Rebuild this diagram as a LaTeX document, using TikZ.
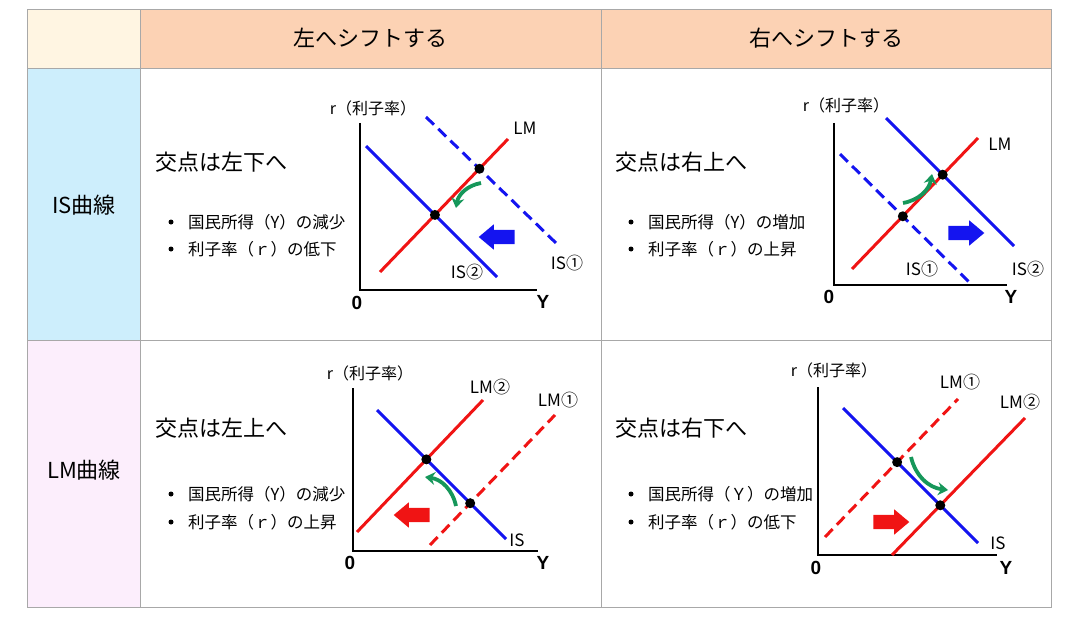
\documentclass[tikz,border=0pt]{standalone}
\usepackage{fontspec}
\setmainfont{Noto Sans CJK JP}
\newfontfamily\axisfont{Liberation Sans}
\usetikzlibrary{arrows.meta, shapes.arrows, positioning}
\usepackage{xcolor}

\definecolor{headcol}{HTML}{FCD2B4}
\definecolor{cornercol}{HTML}{FFF5E2}
\definecolor{iscol}{HTML}{CDEEFC}
\definecolor{lmcol}{HTML}{FCEEFC}
\definecolor{gridcol}{HTML}{A8A8A8}
\definecolor{isblue}{HTML}{1414F0}
\definecolor{lmred}{HTML}{F01414}
\definecolor{movegreen}{HTML}{16975A}

\begin{document}
\begin{tikzpicture}[x=1pt, y=-1pt,
    headtext/.style={font=\fontsize{22}{26}\selectfont},
    title/.style={anchor=west, inner sep=0pt, font=\fontsize{22}{26}\selectfont},
    item/.style={anchor=west, inner sep=0pt, font=\fontsize{16.5}{20}\selectfont},
    dotmark/.style={circle, fill=black, inner sep=0pt, minimum size=5pt},
    axlabel/.style={inner sep=0pt, font=\fontsize{16}{19}\selectfont},
    lbl/.style={inner sep=0pt, font=\fontsize{17}{20}\selectfont},
    axnum/.style={inner sep=0pt, font=\axisfont\bfseries\fontsize{19}{22}\selectfont},
    axis/.style={line width=1.4pt},
    curve/.style={line width=3pt},
    shifted/.style={line width=3pt, dash pattern=on 11pt off 6pt},
    point/.style={circle, fill=black, inner sep=0pt, minimum size=10pt},
    move/.style={movegreen, line width=3.8pt, -{Stealth[length=10pt,width=13pt]}},
    bigarrow/.style={single arrow, inner xsep=0pt, inner ysep=7pt, minimum width=25pt,
        minimum height=36pt, single arrow head extend=5.5pt, single arrow tip angle=80}]
    \useasboundingbox (0,0) rectangle (1070,623);

    % table
    \fill[cornercol] (27,10) rectangle (140,69);
    \fill[headcol] (140,10) rectangle (1051,69);
    \fill[iscol] (27,69) rectangle (140,340);
    \fill[lmcol] (27,340) rectangle (140,607);
    \draw[gridcol, line width=1pt] (27,10) rectangle (1051,607);
    \draw[gridcol, line width=1pt] (27,69) -- (1051,69) (27,340) -- (1051,340)
        (140,10) -- (140,607) (601,10) -- (601,607);
    \node[headtext] (left) at (370,38) {左へシフトする};
    \node[headtext] (right) at (826,38) {右へシフトする};
    \node[headtext] (isrow) at (84,205) {IS曲線};
    \node[headtext] (lmrow) at (84,470) {LM曲線};

    % IS, left
    \node[title] (t1) at (155,162) {交点は左下へ};
    \node[dotmark] at (171,222) {};
    \node[item] (a1) at (188,222) {国民所得（Y）の減少};
    \node[dotmark] at (171,249) {};
    \node[item] (b1) at (188,249) {利子率（ｒ）の低下};
    \draw[axis] (360,123) -- (360,290) -- (537,290);
    \node[axnum] (zero1) at (357,303) {0};
    \node[axnum] (y1) at (543,302) {Y};
    \node[axlabel] (r1) at (373,108) {r（利子率）};
    \coordinate (lma1) at (380,272); \coordinate (lmb1) at (508,139);
    \coordinate (isa1) at (426,117); \coordinate (isb1) at (557,244);
    \coordinate (isc1) at (366,146); \coordinate (isd1) at (497,277);
    \draw[curve, lmred] (lma1) -- (lmb1);
    \draw[shifted, isblue] (isa1) -- (isb1);
    \draw[curve, isblue] (isc1) -- (isd1);
    \node[lbl] (lm1) at (525,128) {LM};
    \node[lbl] (is1) at (567,263) {IS①};
    \node[lbl] (is2) at (467,272) {IS②};
    \node[point] (p1) at (intersection of lma1--lmb1 and isa1--isb1) {};
    \node[point] (q1) at (intersection of lma1--lmb1 and isc1--isd1) {};
    \coordinate (ms1) at (481,183); \coordinate (me1) at (456,208);
    \draw[move] (ms1) to[bend right=35] (me1);
    \node[bigarrow, fill=isblue, shape border rotate=180] (sh1) at (501,237) {};

    % IS, right
    \node[title] (t2) at (615,162) {交点は右上へ};
    \node[dotmark] at (631,222) {};
    \node[item] (a2) at (648,222) {国民所得（Y）の増加};
    \node[dotmark] at (631,249) {};
    \node[item] (b2) at (648,249) {利子率（ｒ）の上昇};
    \draw[axis] (834,123) -- (834,285) -- (1007,285);
    \node[axnum] (zero2) at (829,297) {0};
    \node[axnum] (y2) at (1011,297) {Y};
    \node[axlabel] (r2) at (846,105) {r（利子率）};
    \coordinate (lma2) at (852,269); \coordinate (lmb2) at (978,138);
    \coordinate (isa2) at (840,154); \coordinate (isb2) at (969,282);
    \coordinate (isc2) at (886,118); \coordinate (isd2) at (1014,246);
    \draw[curve, lmred] (lma2) -- (lmb2);
    \draw[shifted, isblue] (isa2) -- (isb2);
    \draw[curve, isblue] (isc2) -- (isd2);
    \node[lbl] (lm2) at (1000,144) {LM};
    \node[lbl] (is3) at (922,269) {IS①};
    \node[lbl] (is4) at (1028,269) {IS②};
    \node[point] (p2) at (intersection of lma2--lmb2 and isa2--isb2) {};
    \node[point] (q2) at (intersection of lma2--lmb2 and isc2--isd2) {};
    \coordinate (ms2) at (903,203); \coordinate (me2) at (932,174);
    \draw[move] (ms2) to[bend right=35] (me2);
    \node[bigarrow, fill=isblue] (sh2) at (962,233) {};

    % LM, left
    \node[title] (t3) at (155,428) {交点は左上へ};
    \node[dotmark] at (171,494) {};
    \node[item] (a3) at (188,494) {国民所得（Y）の減少};
    \node[dotmark] at (171,522) {};
    \node[item] (b3) at (188,522) {利子率（ｒ）の上昇};
    \draw[axis] (353,388) -- (353,551) -- (538,551);
    \node[axnum] (zero3) at (350,563) {0};
    \node[axnum] (y3) at (543,563) {Y};
    \node[axlabel] (r3) at (370,373) {r（利子率）};
    \coordinate (lma3) at (430,545); \coordinate (lmb3) at (555,415);
    \coordinate (lmc3) at (357,532); \coordinate (lmd3) at (483,400);
    \coordinate (isa3) at (377,410); \coordinate (isb3) at (506,539);
    \draw[shifted, lmred] (lma3) -- (lmb3);
    \draw[curve, lmred] (lmc3) -- (lmd3);
    \draw[curve, isblue] (isa3) -- (isb3);
    \node[lbl] (lm3) at (558,400) {LM①};
    \node[lbl] (lm4) at (490,387) {LM②};
    \node[lbl] (is5) at (517,540) {IS};
    \node[point] (p3) at (intersection of lma3--lmb3 and isa3--isb3) {};
    \node[point] (q3) at (intersection of lmc3--lmd3 and isa3--isb3) {};
    \coordinate (ms3) at (456,506); \coordinate (me3) at (425,477);
    \draw[move] (ms3) to[bend right=35] (me3);
    \node[bigarrow, fill=lmred, shape border rotate=180] (sh3) at (416,515) {};

    % LM, right
    \node[title] (t4) at (615,428) {交点は右下へ};
    \node[dotmark] at (631,494) {};
    \node[item] (a4) at (648,494) {国民所得（Ｙ）の増加};
    \node[dotmark] at (631,522) {};
    \node[item] (b4) at (648,522) {利子率（ｒ）の低下};
    \draw[axis] (818,387) -- (818,555) -- (997,555);
    \node[axnum] (zero4) at (816,568) {0};
    \node[axnum] (y4) at (1006,568) {Y};
    \node[axlabel] (r4) at (834,370) {r（利子率）};
    \coordinate (lma4) at (825,537); \coordinate (lmb4) at (958,399);
    \coordinate (lmc4) at (892,555); \coordinate (lmd4) at (1025,418);
    \coordinate (isa4) at (843,408); \coordinate (isb4) at (978,543);
    \draw[shifted, lmred] (lma4) -- (lmb4);
    \draw[curve, lmred] (lmc4) -- (lmd4);
    \draw[curve, isblue] (isa4) -- (isb4);
    \node[lbl] (lm5) at (960,382) {LM①};
    \node[lbl] (lm6) at (1020,402) {LM②};
    \node[lbl] (is6) at (998,543) {IS};
    \node[point] (p4) at (intersection of lma4--lmb4 and isa4--isb4) {};
    \node[point] (q4) at (intersection of lmc4--lmd4 and isa4--isb4) {};
    \coordinate (ms4) at (911,457); \coordinate (me4) at (948,490);
    \draw[move] (ms4) to[bend right=35] (me4);
    \node[bigarrow, fill=lmred] (sh4) at (887,522) {};
\end{tikzpicture}
\end{document}
